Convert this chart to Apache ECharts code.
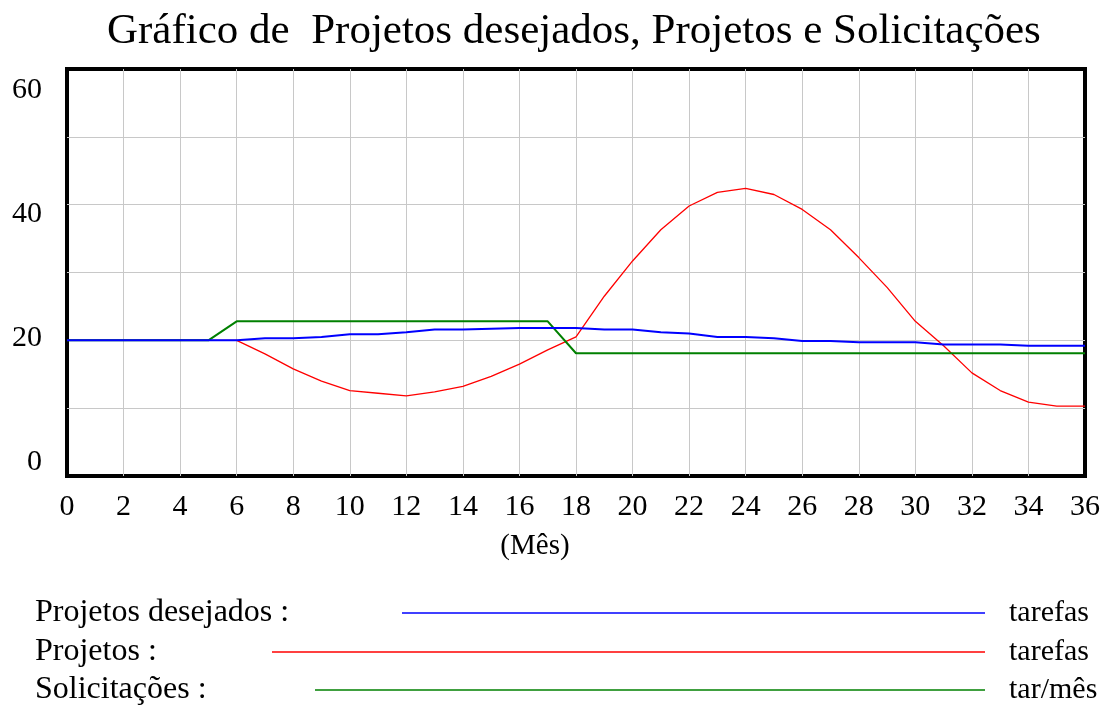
<!DOCTYPE html>
<html>
<head>
<meta charset="utf-8">
<title>Gráfico de Projetos desejados, Projetos e Solicitações</title>
<script src="https://cdn.jsdelivr.net/npm/echarts@6/dist/echarts.min.js"></script>
<style>
  html, body { margin: 0; padding: 0; background: #fff; }
  #chart { width: 1107px; height: 705px; }
</style>
</head>
<body>
<div id="chart"></div>
<script>
// meses (eixo x)
const months = [0,1,2,3,4,5,6,7,8,9,10,11,12,13,14,15,16,17,18,19,20,21,22,23,24,25,26,27,28,29,30,31,32,33,34,35,36]

// Projetos desejados (tarefas)
const projetosDesejados = [20,20,20,20,20,20,20,20.3,20.3,20.5,20.9,20.9,21.2,21.6,21.6,21.7,21.8,21.8,21.8,21.6,21.6,21.2,21.0,20.5,20.5,20.3,19.9,19.9,19.7,19.7,19.7,19.4,19.4,19.4,19.2,19.2,19.2]

// Projetos (tarefas)
const projetos = [20,20,20,20,20,20,20,18.0,15.8,14.0,12.6,12.2,11.8,12.4,13.2,14.7,16.5,18.6,20.5,26.5,31.7,36.3,39.8,41.8,42.4,41.5,39.3,36.3,32.2,27.8,22.8,19.2,15.2,12.6,10.9,10.3,10.3]

// Solicitações (tar/mês)
const solicitacoes = [20,20,20,20,20,20,22.8,22.8,22.8,22.8,22.8,22.8,22.8,22.8,22.8,22.8,22.8,22.8,18.1,18.1,18.1,18.1,18.1,18.1,18.1,18.1,18.1,18.1,18.1,18.1,18.1,18.1,18.1,18.1,18.1,18.1,18.1]

const yTickLabels = [0, 20, 40, 60]
const seriesNames = ['Projetos desejados', 'Projetos', 'Solicitações']
const seriesUnits = ['tarefas', 'tarefas', 'tar/mês']

const FONT = 'Liberation Serif, Times New Roman, serif'
const colors = ['#0000ff', '#ff0000', '#008000']
const lineWidths = [2, 1.3, 2]
const seriesData = [projetosDesejados, projetos, solicitacoes]

// legenda: onde começa a linha e a altura de cada linha
const legendLineStart = [402, 272, 315]
const legendLineEnd = 985
const legendRowY = [611, 650, 688]

const chart = echarts.init(document.getElementById('chart'))

const toPairs = (vals) => months.map((m, i) => [m, vals[i]])

const gridLine = { show: true, showMinLine: false, showMaxLine: false, lineStyle: { color: '#c8c8c8', width: 1 } }

const option = {
  animation: false,
  backgroundColor: '#fff',
  title: {
    text: 'Gráfico de  Projetos desejados, Projetos e Solicitações',
    left: 102,
    top: 5,
    textStyle: { fontFamily: FONT, fontSize: 43, fontWeight: 'normal', color: '#000' },
  },
  grid: {
    left: 67,
    right: 22,
    top: 69,
    bottom: 229,
    show: true,
    borderColor: '#000',
    borderWidth: 4,
  },
  xAxis: {
    type: 'value',
    min: 0,
    max: 36,
    interval: 2,
    name: '(Mês)',
    nameLocation: 'middle',
    nameGap: 56,
    nameTextStyle: { fontFamily: FONT, fontSize: 29, color: '#000', padding: [0, 82, 0, 0] },
    axisLine: { show: false },
    axisTick: { show: false },
    axisLabel: { fontFamily: FONT, fontSize: 30, color: '#000', margin: 16 },
    splitLine: gridLine,
  },
  yAxis: [
    {
      type: 'value',
      min: 0,
      max: 60,
      interval: 10,
      axisLine: { show: false },
      axisTick: { show: false },
      axisLabel: { show: false },
      splitLine: gridLine,
    },
    {
      // eixo só para os rótulos (espaçados como no original)
      type: 'value',
      position: 'left',
      min: -2.252,
      max: 63.38,
      axisLine: { show: false },
      axisTick: { show: false },
      splitLine: { show: false },
      axisLabel: {
        customValues: yTickLabels,
        fontFamily: FONT,
        fontSize: 30,
        color: '#000',
        margin: 25,
      },
    },
  ],
  legend: seriesNames.map((name, i) => ({
    data: [name],
    left: 35,
    top: legendRowY[i] - 14,
    padding: 0,
    align: 'right',
    selectedMode: false,
    icon: 'rect',
    itemWidth: legendLineEnd - legendLineStart[i],
    itemHeight: 1.5,
    formatter: (n) => '{a|' + n + ' :}',
    textStyle: {
      rich: {
        a: {
          width: legendLineStart[i] - 40,
          align: 'left',
          fontFamily: FONT,
          fontSize: 32,
          color: '#000',
        },
      },
    },
  })),
  graphic: seriesUnits.map((u, i) => ({
    type: 'text',
    left: 1009,
    top: legendRowY[i] - 13,
    style: { text: u, fontFamily: FONT, fontSize: 30, fill: '#000' },
  })),
  series: seriesNames.map((name, i) => ({
    name: name,
    type: 'line',
    yAxisIndex: 0,
    symbol: 'none',
    color: colors[i],
    lineStyle: { width: lineWidths[i], color: colors[i] },
    data: toPairs(seriesData[i]),
    z: i === 0 ? 4 : 3,
  })),
}

chart.setOption(option)
</script>
</body>
</html>
